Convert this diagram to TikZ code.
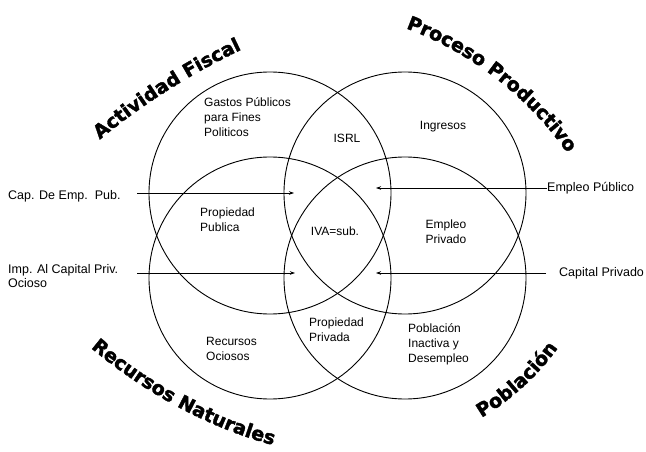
\documentclass[tikz,border=0pt]{standalone}
\usepackage{fontspec}
\setmainfont{Liberation Sans}
\newfontfamily\titlefont{DejaVu Sans Bold}[FakeBold=2]
\usetikzlibrary{arrows.meta,decorations.text}
\newcommand\ttlfont{\titlefont\fontsize{19}{19}\selectfont}
\begin{document}
\begin{tikzpicture}[x=1pt,y=-1pt,
  venn/.style={circle, draw=black, line width=0.9pt, minimum size=242pt, inner sep=0pt},
  arr/.style={draw=black, line width=0.8pt, -{Stealth[length=5pt,width=3.5pt]}},
  lbl/.style={font=\fontsize{12.5}{14}\selectfont, inner sep=0pt, align=left},
  reg/.style={font=\fontsize{12}{15}\selectfont, inner sep=0pt, align=left},
  ttl/.style={decorate, decoration={text along path, text align=center, text={|\ttlfont|#1}}}
]
\useasboundingbox (0,0) rectangle (646,452);
\fill[white] (0,0) rectangle (646,452);
% circles
\node[venn] (A) at (270,193) {};
\node[venn] (B) at (405,193) {};
\node[venn] (C) at (270,278) {};
\node[venn] (D) at (405,278) {};
% region texts
\node[reg, anchor=west] (gastos) at (204,117) {Gastos Públicos\\para Fines\\Politicos};
\node[reg] (isrl) at (347,138) {ISRL};
\node[reg] (ingresos) at (443,127) {Ingresos};
\node[reg, anchor=west] (ppub) at (200,220) {Propiedad\\Publica};
\node[reg] (iva) at (335,231) {IVA=sub.};
\node[reg, align=center] (epriv) at (446,232) {Empleo\\Privado};
\node[reg, anchor=west] (rec) at (206,349) {Recursos\\Ociosos};
\node[reg, anchor=west] (ppriv) at (309,330) {Propiedad\\Privada};
\node[reg, anchor=west] (pob) at (408,344) {Población\\Inactiva y\\Desempleo};
% side labels
\node[lbl, anchor=west] (cap) at (8,196) {Cap. De Emp.\ \ Pub.};
\node[lbl, anchor=west] (imp) at (8,276) {Imp. Al Capital Priv.\\Ocioso};
\node[lbl, anchor=west] (emp) at (547,188) {Empleo Público};
\node[lbl, anchor=west] (capp) at (559,273) {Capital Privado};
% connector ends
\coordinate (capS) at (137,193);
\coordinate (capT) at (294,193);
\coordinate (impS) at (137,273);
\coordinate (impT) at (295,273);
\coordinate (empT) at (376,188);
\coordinate (cpS) at (546,273);
\coordinate (cpT) at (376,273);
\draw[arr] (capS) -- (capT);
\draw[arr] (impS) -- (impT);
\draw[arr] (emp.west) -- (empT);
\draw[arr] (cpS) -- (cpT);
% curved titles
\path[ttl={Actividad Fiscal}] (97,142) .. controls (141,105) and (192.5,72.5) .. (245,48);
\path[ttl={Proceso Productivo}] (405,28) .. controls (471,52) and (528,97) .. (568,154);
\path[ttl={Recursos Naturales}] (91,348) .. controls (144,392) and (206,427) .. (273,445);
\path[ttl={Población}] (478.5,419.5) .. controls (510.5,401) and (538.8,375.3) .. (560,345);
\end{tikzpicture}
\end{document}
